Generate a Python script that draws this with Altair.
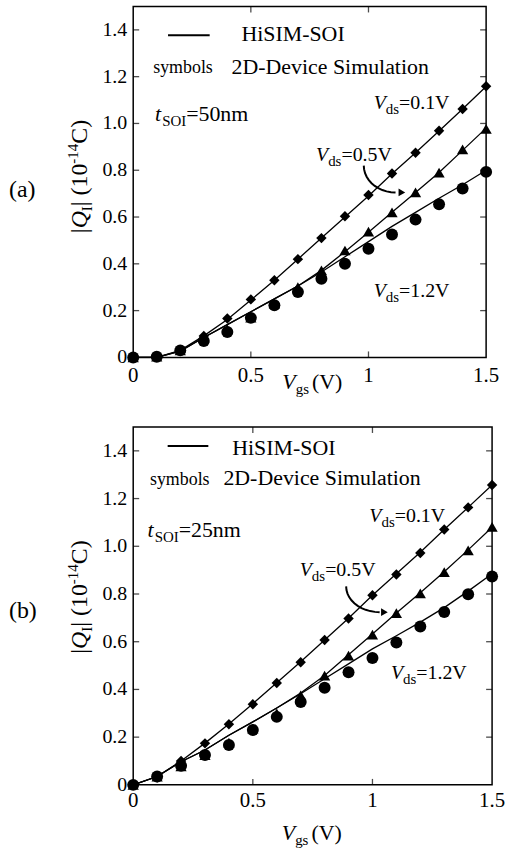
import altair as alt
import pandas as pd
import numpy as np

FONT = "Liberation Serif"

VGS = [0.0, 0.1, 0.2, 0.3, 0.4, 0.5, 0.6, 0.7, 0.8, 0.9, 1.0, 1.1, 1.2, 1.3, 1.4, 1.5]
VDS = ["0.1", "0.5", "1.2"]
X_TICKS = [0, 0.5, 1.0, 1.5]
X_LABELS = ["0", "0.5", "1", "1.5"]
Y_TICKS = [0, 0.2, 0.4, 0.6, 0.8, 1.0, 1.2, 1.4]
Y_LABELS = ["0", "0.2", "0.4", "0.6", "0.8", "1.0", "1.2", "1.4"]

# (a) tSOI = 50 nm : 2D-device simulation (symbols)
a_sim_01 = [0, 0.003, 0.03, 0.092, 0.166, 0.248, 0.33, 0.42, 0.51, 0.603, 0.694, 0.786, 0.875, 0.969, 1.062, 1.159]
a_sim_05 = [0, 0.003, 0.03, 0.085, 0.12, 0.17, 0.23, 0.30, 0.372, 0.457, 0.538, 0.62, 0.705, 0.79, 0.889, 0.977]
a_sim_12 = [0, 0.003, 0.03, 0.07, 0.109, 0.169, 0.223, 0.28, 0.336, 0.40, 0.464, 0.525, 0.589, 0.655, 0.722, 0.793]
# (a) HiSIM-SOI (lines)
a_fit_01 = [0, 0, 0.03, 0.092, 0.162, 0.245, 0.33, 0.42, 0.51, 0.60, 0.69, 0.785, 0.875, 0.968, 1.062, 1.158]
a_fit_05 = [0, 0, 0.027, 0.085, 0.14, 0.195, 0.25, 0.305, 0.372, 0.452, 0.535, 0.62, 0.705, 0.79, 0.885, 0.98]
a_fit_12 = [0, 0, 0.027, 0.085, 0.14, 0.195, 0.25, 0.305, 0.365, 0.43, 0.495, 0.56, 0.62, 0.68, 0.738, 0.80]

# (b) tSOI = 25 nm : 2D-device simulation (symbols)
b_sim_01 = [0, 0.031, 0.10, 0.174, 0.254, 0.338, 0.427, 0.514, 0.607, 0.697, 0.795, 0.882, 0.972, 1.07, 1.163, 1.257]
b_sim_05 = [0, 0.035, 0.077, 0.125, 0.177, 0.236, 0.30, 0.375, 0.458, 0.542, 0.63, 0.72, 0.803, 0.892, 0.983, 1.081]
b_sim_12 = [0, 0.035, 0.08, 0.125, 0.167, 0.23, 0.285, 0.347, 0.407, 0.472, 0.532, 0.597, 0.664, 0.725, 0.799, 0.873]
# (b) HiSIM-SOI (lines)
b_fit_01 = [0, 0.035, 0.10, 0.175, 0.255, 0.34, 0.428, 0.516, 0.607, 0.698, 0.795, 0.885, 0.975, 1.07, 1.163, 1.257]
b_fit_05 = [0, 0.035, 0.097, 0.146, 0.208, 0.264, 0.322, 0.385, 0.458, 0.545, 0.632, 0.72, 0.805, 0.893, 0.985, 1.08]
b_fit_12 = [0, 0.035, 0.097, 0.146, 0.208, 0.264, 0.322, 0.382, 0.445, 0.507, 0.57, 0.625, 0.682, 0.743, 0.812, 0.885]

ONE = pd.DataFrame({"k": [0]})

W_REG = {"0": .5, "1": .5, "2": .5, "3": .5, "4": .5, "5": .5, "6": .5, "7": .5, "8": .5, "9": .5,
         ".": .25, "=": .564, "V": .722, "n": .5, "m": .778, "S": .556, "O": .722, "I": .333,
         "d": .5, "s": .389, "g": .5, "-": .333, "(": .333, ")": .333, "C": .667, "|": .2, " ": .25}
W_IT = {"V": .611, "Q": .722, "t": .278}


def tw(s, size, italic):
    tab = W_IT if italic else W_REG
    return sum(tab.get(c, 0.5) for c in s) * size


def rich(xenc, yenc, pieces, angle=0):
    layers = []
    off = 0.0
    for txt, size, italic, shift, gap in pieces:
        off += gap
        layers.append(
            alt.Chart(ONE).mark_text(
                text=txt, font=FONT, fontSize=size,
                fontStyle="italic" if italic else "normal",
                align="left", baseline="alphabetic", dx=off, dy=shift,
                angle=angle, color="black",
            ).encode(x=xenc, y=yenc)
        )
        off += tw(txt, size, italic)
    return layers


def X(v):
    return alt.XDatum(v, axis=None)


def Y(v):
    return alt.YDatum(v, axis=None)


def vds_label(x, y, val):
    return rich(X(x), Y(y), [("V", 20, True, 0, 0), ("ds", 15, False, 5, 0), ("=" + val + "V", 20, False, 0, 0)])


def panel(sim, fit, w, h, ann, xlab_pad, xtitle_y):
    xs = alt.Scale(domain=[0, 1.5], nice=False, zero=False)
    ys = alt.Scale(domain=[0, 1.5], nice=False, zero=False)
    pts = pd.DataFrame({
        "Vgs": VGS * 3,
        "Q": sim[0] + sim[1] + sim[2],
        "Vds": [v for v in VDS for _ in VGS],
    })
    lns = pd.DataFrame({
        "Vgs": VGS * 3,
        "Q": fit[0] + fit[1] + fit[2],
        "Vds": [v for v in VDS for _ in VGS],
    })
    points = alt.Chart(pts).mark_point(filled=True, opacity=1, color="black", strokeWidth=0).encode(
        x=alt.X("Vgs:Q", scale=xs, axis=None),
        y=alt.Y("Q:Q", scale=ys, axis=None),
        shape=alt.Shape("Vds:N", scale=alt.Scale(domain=VDS, range=["diamond", "triangle-up", "circle"]), legend=None),
        size=alt.Size("Vds:O", scale=alt.Scale(domain=VDS, range=[110, 145, 132]), legend=None),
    )
    lines = alt.Chart(lns).mark_line(color="black", strokeWidth=1.3).encode(
        x=alt.X("Vgs:Q", scale=xs, axis=None),
        y=alt.Y("Q:Q", scale=ys, axis=None),
        detail="Vds:N",
    )
    ytk = pd.DataFrame({"v": Y_TICKS, "lab": Y_LABELS})
    xtk = pd.DataFrame({"v": X_TICKS, "lab": X_LABELS})
    ytk_in = ytk.iloc[1:]
    xtk_in = xtk.iloc[1:-1]
    ticks = [
        alt.Chart(ytk_in).mark_tick(orient="horizontal", size=6, thickness=1.3, color="black").encode(
            y=alt.Y("v:Q", scale=ys, axis=None), x=alt.value(3)),
        alt.Chart(ytk_in).mark_tick(orient="horizontal", size=6, thickness=1.3, color="black").encode(
            y=alt.Y("v:Q", scale=ys, axis=None), x=alt.value(w - 3)),
        alt.Chart(xtk_in).mark_tick(orient="vertical", size=6, thickness=1.3, color="black").encode(
            x=alt.X("v:Q", scale=xs, axis=None), y=alt.value(h - 3)),
        alt.Chart(xtk_in).mark_tick(orient="vertical", size=6, thickness=1.3, color="black").encode(
            x=alt.X("v:Q", scale=xs, axis=None), y=alt.value(3)),
    ]
    tick_labels = [
        alt.Chart(ytk).mark_text(font=FONT, fontSize=20, align="right", baseline="middle", color="black").encode(
            y=alt.Y("v:Q", scale=ys, axis=None), x=alt.value(-6), text="lab:N"),
        alt.Chart(xtk).mark_text(font=FONT, fontSize=21, align="center", baseline="top", color="black").encode(
            x=alt.X("v:Q", scale=xs, axis=None), y=alt.value(h + xlab_pad), text="lab:N"),
    ]
    rule = alt.Chart(ONE).mark_rule(color="black", strokeWidth=2).encode(
        x=X(ann["rule"][0]), x2=alt.X2Datum(ann["rule"][1]), y=Y(ann["rule"][2]))
    texts = []
    texts += rich(X(ann["hisim"][0]), Y(ann["hisim"][1]), [("HiSIM-SOI", 22, False, 0, 0)])
    texts += rich(X(ann["sym"][0]), Y(ann["sym"][1]), [("symbols", 18, False, 0, 0)])
    texts += rich(X(ann["dev"][0]), Y(ann["dev"][1]), [("2D-Device Simulation", 22, False, 0, 0)])
    texts += rich(X(ann["tsoi"][0]), Y(ann["tsoi"][1]),
                  [("t", 22, True, 0, 0), ("SOI", 15, False, 5, 1), ("=" + ann["tsoi"][2], 22, False, 0, 0)])
    texts += vds_label(ann["v01"][0], ann["v01"][1], "0.1")
    texts += vds_label(ann["v05"][0], ann["v05"][1], "0.5")
    texts += vds_label(ann["v12"][0], ann["v12"][1], "1.2")
    cx, cy, rx, ry = ann["arrow"]
    t = np.linspace(0, np.pi / 2, 12)
    arr = pd.DataFrame({"Vgs": cx - rx * np.cos(t), "Q": cy - ry * np.sin(t), "o": np.arange(12)})
    arrow = alt.Chart(arr).mark_line(color="black", strokeWidth=2).encode(
        x=alt.X("Vgs:Q", scale=xs, axis=None), y=alt.Y("Q:Q", scale=ys, axis=None), order="o:Q")
    head = alt.Chart(ONE).mark_point(shape="triangle-right", filled=True, size=60, opacity=1,
                                     color="black", strokeWidth=0).encode(
        x=X(cx + ann["head"]), y=Y(cy - ry))
    texts += rich(X(ann["xt"]), alt.value(xtitle_y),
                  [("V", 22, True, 0, 0), ("gs", 15, False, 5, 0), ("(V)", 22, False, 0, 3)])
    texts += rich(alt.value(-46), alt.value(228),
                  [("|", 24, False, 0, 0), ("Q", 24, True, 0, 0), ("I", 15, False, 5, 0),
                   ("| (10", 24, False, 0, 0), ("-14", 15, False, -10, 0), ("C)", 24, False, 0, 0)],
                  angle=270)
    texts += rich(alt.value(-125), alt.value(192), [(ann["label"], 24, False, 0, 0)])
    return alt.layer(points, lines, *ticks, *tick_labels, rule, arrow, head, *texts).properties(width=w, height=h)


ann_a = {
    "rule": (0.148, 0.325, 1.377), "hisim": (0.46, 1.352), "sym": (0.085, 1.216),
    "dev": (0.418, 1.21), "tsoi": (0.093, 1.011, "50nm"),
    "v01": (1.022, 1.062), "v05": (0.777, 0.84), "v12": (1.022, 0.258),
    "arrow": (1.115, 0.82, 0.135, 0.115), "head": 0.027, "xt": 0.634, "label": "(a)",
}
ann_b = {
    "rule": (0.144, 0.314, 1.42), "hisim": (0.414, 1.382), "sym": (0.07, 1.257),
    "dev": (0.377, 1.257), "tsoi": (0.06, 1.04, "25nm"),
    "v01": (0.987, 1.10), "v05": (0.696, 0.874), "v12": (1.077, 0.445),
    "arrow": (1.03, 0.832, 0.14, 0.108), "head": 0.02, "xt": 0.621, "label": "(b)",
}

top = panel([a_sim_01, a_sim_05, a_sim_12], [a_fit_01, a_fit_05, a_fit_12], 355, 353, ann_a, 8, 385)
bot = panel([b_sim_01, b_sim_05, b_sim_12], [b_fit_01, b_fit_05, b_fit_12], 361, 360, ann_b, 5, 415)

chart = alt.vconcat(top, bot, spacing=28).properties(
    padding={"left": 8, "top": 3, "right": 0, "bottom": 0}
).configure(font=FONT, background="white").configure_view(stroke="black", strokeWidth=1.5)

chart.save("out.html", embed_options={"renderer": "svg", "actions": False})
